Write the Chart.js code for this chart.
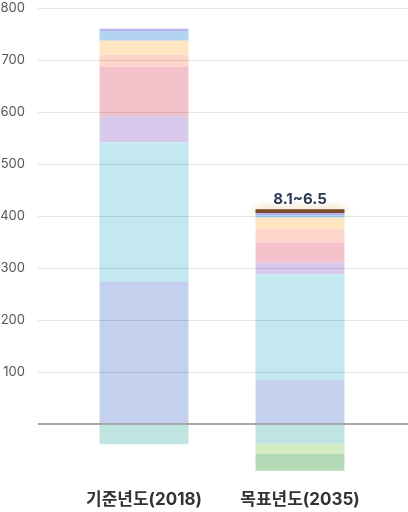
<!DOCTYPE html>
<html>
<head>
<meta charset="utf-8">
<script src="https://cdn.jsdelivr.net/npm/chart.js@4"></script>
<style>
  html, body { margin: 0; padding: 0; background: #fff; }
  #wrap { width: 408px; height: 512px; }
</style>
</head>
<body>
<div id="wrap"><canvas id="chart"></canvas></div>
<script>
const categories = ['기준년도(2018)', '목표년도(2035)'];

// layers bottom to top (negatives stack downward from zero)
const layerNames = ['흡수원', '흡수원2', '흡수원3', '에너지', '전환', '산업', '건물', '수송', '농축산', '폐기물', '기타', '탈루', '잔여'];
const layerValues = [
  [-39, -38],
  [null, -19],
  [null, -33],
  [273, 85],
  [269, 203],
  [50, 22],
  [95, 39],
  [23, 27],
  [27, 20],
  [null, 2],
  [19, 4],
  [4, 4],
  [null, 7]
];
const layerColors = [
  '#c0e4e1', '#d3ecc1', '#b2dab7', '#c3d0ee', '#c3e8f0', '#d8c9ec',
  '#f3c1ca', '#fdd5cb', '#fee7c0', '#c9e6f4', '#b3d4f1', '#b9b1ee', '#7b4b2a'
];
const targetLabel = '8.1~6.5';
const yMin = -100, yMax = 800, yStep = 100;

const highlight = layerNames.length - 1;

const topLabel = {
  id: 'topLabel',
  beforeDatasetDraw(chart, args) {
    if (args.index === highlight) {
      const ctx = chart.ctx;
      ctx.save();
      ctx.shadowColor = 'rgba(214,168,80,0.75)';
      ctx.shadowBlur = 9;
    }
  },
  afterDatasetDraw(chart, args) {
    if (args.index === highlight) chart.ctx.restore();
  },
  afterDatasetsDraw(chart) {
    const bar = chart.getDatasetMeta(highlight).data[1];
    const ctx = chart.ctx;
    ctx.save();
    ctx.font = 'bold 15px Inter, "Noto Sans CJK KR", sans-serif';
    ctx.fillStyle = '#2c3a55';
    ctx.textAlign = 'center';
    ctx.textBaseline = 'middle';
    ctx.fillText(targetLabel, bar.x, bar.y - 10);
    ctx.restore();
  }
};

const gridColor = (context) => {
  const v = context.tick.value;
  if (v < 0) return 'rgba(0,0,0,0)';
  return v === 0 ? '#a9a9a9' : 'rgba(0,0,0,0.1)';
};
const gridWidth = (context) => context.tick.value === 0 ? 2 : 1;

function fixY(width) {
  return (scale) => {
    scale.width = width;
    scale.paddingTop = 0;
    scale.paddingBottom = 0;
  };
}

new Chart(document.getElementById('chart'), {
  type: 'bar',
  data: {
    labels: categories,
    datasets: layerNames.map((name, i) => ({
      label: name,
      data: layerValues[i],
      backgroundColor: layerColors[i],
      borderWidth: 0,
      barPercentage: 0.57,
      categoryPercentage: 1
    }))
  },
  options: {
    responsive: true,
    maintainAspectRatio: false,
    animation: false,
    layout: { padding: { top: 8, right: 0, left: 0, bottom: 0 } },
    plugins: { legend: { display: false }, tooltip: { enabled: false } },
    scales: {
      x: {
        stacked: true,
        grid: { display: false, drawTicks: false },
        border: { display: false },
        ticks: { padding: 14, color: '#333', font: { family: 'Inter, "Noto Sans CJK KR", sans-serif', size: 17, weight: 'bold' } },
        afterFit(scale) {
          scale.height = 36;
          scale.paddingLeft = 0;
          scale.paddingRight = 0;
        }
      },
      y: {
        stacked: true,
        min: yMin,
        max: yMax,
        grid: { color: gridColor, lineWidth: gridWidth, tickLength: 28, z: 1 },
        border: { display: false },
        ticks: {
          stepSize: yStep,
          padding: 13,
          color: '#555',
          font: { family: 'Inter, sans-serif', size: 13 },
          callback: (v) => v > 0 ? v : ''
        },
        afterFit: fixY(66)
      },
      y2: {
        position: 'right',
        min: yMin,
        max: yMax,
        grid: { color: gridColor, lineWidth: gridWidth, tickLength: 30, drawOnChartArea: false },
        border: { display: false },
        ticks: { display: false, stepSize: yStep },
        afterFit: fixY(30)
      }
    }
  },
  plugins: [topLabel]
});
</script>
</body>
</html>
